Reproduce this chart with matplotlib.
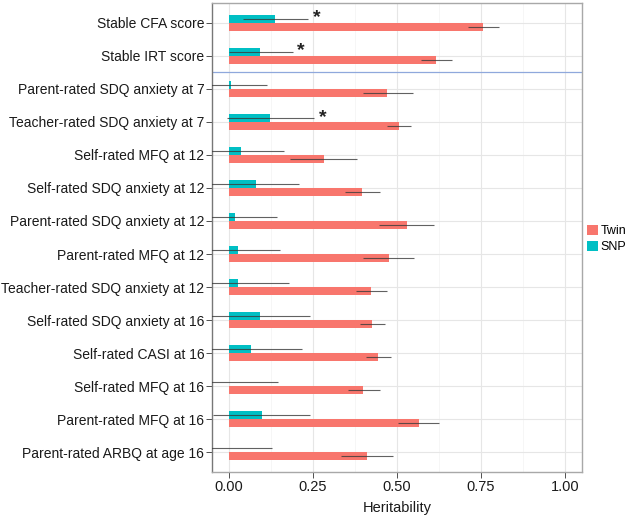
import matplotlib
matplotlib.use("Agg")
import matplotlib.pyplot as plt
from matplotlib.patches import Patch
import numpy as np

plt.rcParams["font.family"] = ["Liberation Sans", "DejaVu Sans"]

# measures, top to bottom
labels = [
    "Stable CFA score",
    "Stable IRT score",
    "Parent-rated SDQ anxiety at 7",
    "Teacher-rated SDQ anxiety at 7",
    "Self-rated MFQ at 12",
    "Self-rated SDQ anxiety at 12",
    "Parent-rated SDQ anxiety at 12",
    "Parent-rated MFQ at 12",
    "Teacher-rated SDQ anxiety at 12",
    "Self-rated SDQ anxiety at 16",
    "Self-rated CASI at 16",
    "Self-rated MFQ at 16",
    "Parent-rated MFQ at 16",
    "Parent-rated ARBQ at age 16",
]

twin = [0.757, 0.617, 0.472, 0.507, 0.282, 0.398, 0.530, 0.476, 0.424,
        0.425, 0.443, 0.401, 0.566, 0.411]
twin_lo = [0.713, 0.572, 0.401, 0.472, 0.181, 0.345, 0.448, 0.401, 0.379,
           0.391, 0.407, 0.354, 0.504, 0.335]
twin_hi = [0.805, 0.665, 0.547, 0.543, 0.382, 0.450, 0.612, 0.552, 0.471,
           0.464, 0.483, 0.450, 0.627, 0.490]

snp = [0.138, 0.094, 0.008, 0.123, 0.037, 0.081, 0.019, 0.027, 0.027,
       0.094, 0.067, 0.000, 0.099, 0.000]
snp_lo = [0.042, 0.000, -0.10, -0.004, -0.10, -0.10, -0.10, -0.10, -0.10,
          -0.10, -0.10, -0.10, -0.047, -0.10]
snp_hi = [0.237, 0.190, 0.113, 0.253, 0.164, 0.210, 0.143, 0.152, 0.180,
          0.242, 0.217, 0.145, 0.242, 0.128]
snp_sig = [True, True, False, True, False, False, False, False, False,
           False, False, False, False, False]

TWIN_C = "#F8766D"
SNP_C = "#00BFC4"

n = len(labels)
pos = np.arange(n)[::-1] + 1.0  # top category at highest y
h = 0.25

fig = plt.figure(figsize=(6.33, 5.16), dpi=100)
ax = fig.add_axes([212 / 633, 44 / 516, 369.5 / 633, 469 / 516])

# grid
for v in [0.125, 0.375, 0.625, 0.875]:
    ax.axvline(v, color="#f3f3f3", lw=0.5, zorder=0)
for v in [0, 0.25, 0.5, 0.75, 1.0]:
    ax.axvline(v, color="#e6e6e6", lw=0.8, zorder=0)
for p in pos:
    ax.axhline(p, color="#e6e6e6", lw=0.8, zorder=0)

ax.barh(pos - h / 2, twin, height=h, color=TWIN_C, zorder=2)
ax.barh(pos + h / 2, snp, height=h, color=SNP_C, zorder=2)

ax.hlines(pos - h / 2, twin_lo, twin_hi, color="#3a3a3a", lw=0.8, alpha=0.8, zorder=3)
ax.hlines(pos + h / 2, snp_lo, snp_hi, color="#3a3a3a", lw=0.8, alpha=0.8, zorder=3)

for p, hi, sig in zip(pos, snp_hi, snp_sig):
    if sig:
        ax.text(hi + 0.014, p + h / 2 + 0.02, "*", fontsize=14, fontweight="bold",
                ha="left", va="center", color="#222222")

# separator between stable scores and individual measures
ax.axhline(pos[1] - 0.5, color="#8fa8dc", lw=0.9, zorder=1)

ax.set_xlim(-0.05, 1.05)
ax.set_ylim(0.4, n + 0.6)
ax.set_xticks([0, 0.25, 0.5, 0.75, 1.0])
ax.set_xticklabels(["0.00", "0.25", "0.50", "0.75", "1.00"])
ax.set_yticks(pos)
ax.set_yticklabels(labels)
ax.tick_params(axis="y", labelsize=10, colors="#333333", length=4, width=0.6, pad=1.5)
ax.tick_params(axis="x", labelsize=10.5, colors="#333333", length=4, width=0.6, pad=1.5)
for lab in ax.get_yticklabels() + ax.get_xticklabels():
    lab.set_color("#1a1a1a")
ax.set_xlabel("Heritability", fontsize=10.5, labelpad=5, color="#1a1a1a")

for side in ["top", "right", "bottom"]:
    ax.spines[side].set_color("#a8a8a8")
    ax.spines[side].set_linewidth(1.0)
ax.spines["left"].set_color("#777777")
ax.spines["left"].set_linewidth(1.0)

handles = [Patch(facecolor=TWIN_C, label="Twin"), Patch(facecolor=SNP_C, label="SNP")]
fig.legend(handles=handles, loc="center left", bbox_to_anchor=(587 / 633, 1 - 239 / 516),
           frameon=False, fontsize=9, handlelength=0.85, handleheight=0.9,
           handletextpad=0.25, labelspacing=0.25, borderaxespad=0, borderpad=0)

fig.savefig("out.png", dpi=100)
